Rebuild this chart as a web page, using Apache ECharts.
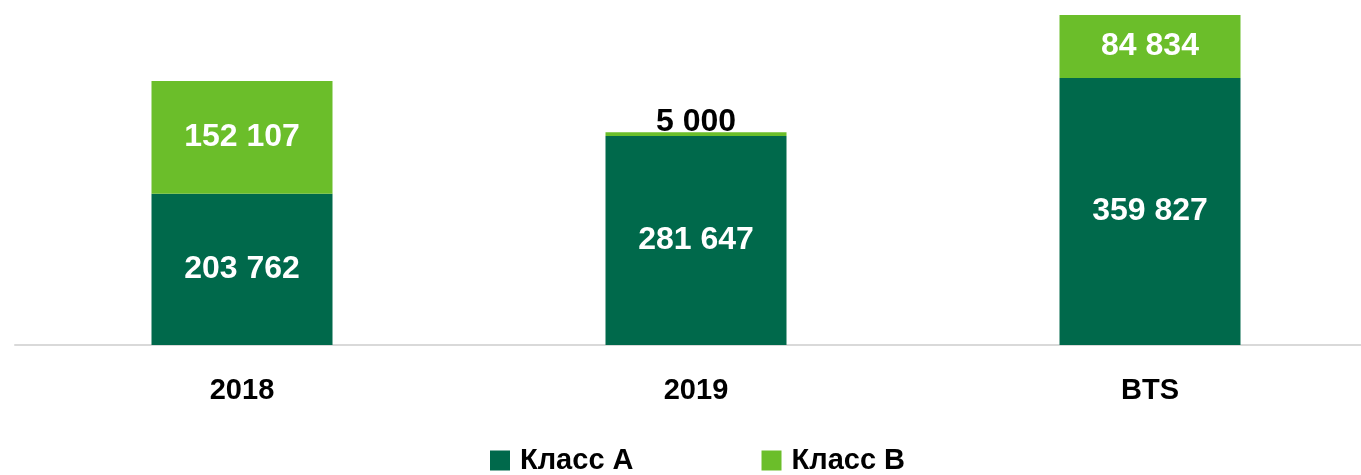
<!DOCTYPE html>
<html>
<head>
<meta charset="utf-8">
<script src="https://cdn.jsdelivr.net/npm/echarts@6/dist/echarts.min.js"></script>
<style>
    html, body { margin: 0; padding: 0; background: #fff; }
    #container { width: 1361px; height: 475px; }
</style>
</head>
<body>
<div id="container"></div>
<script type="text/javascript">
    var categories = ['2018', '2019', 'BTS'];
    var classA = [203762, 281647, 359827];
    var classB = [152107, 5000, 84834];
    var seriesNames = ['Класс A', 'Класс B'];

    var dom = document.getElementById("container");
    var myChart = echarts.init(dom);

    // числа с пробелом между тысячами
    function fmt(v) {
        return String(v).replace(/\B(?=(\d{3})+(?!\d))/g, ' ');
    }

    var labelFont = 'Liberation Sans Narrow, Arial Narrow, Liberation Sans, Arial, sans-serif';

    var option = {
        animation: false,
        grid: { left: 15, width: 1362, top: 0, bottom: 130, outerBoundsMode: 'none' },
        legend: {
            data: seriesNames,
            top: 441,
            left: 485,
            itemWidth: 20,
            itemHeight: 20,
            itemGap: 128,
            icon: 'rect',
            textStyle: { fontFamily: labelFont, fontWeight: 'bold', fontSize: 29, color: '#000', padding: [0, 0, 0, 5] }
        },
        xAxis: {
            type: 'category',
            data: categories,
            axisLine: { lineStyle: { color: '#d9d9d9', width: 2 } },
            axisTick: { show: false },
            axisLabel: { margin: 31, fontFamily: labelFont, fontWeight: 'bold', fontSize: 29, color: '#000' }
        },
        yAxis: {
            type: 'value',
            min: 0,
            max: 465000,
            show: false,
            splitLine: { show: false }
        },
        series: [
            {
                name: seriesNames[0],
                type: 'bar',
                stack: 'total',
                barWidth: 181,
                data: classA,
                itemStyle: { color: '#00694B' },
                label: {
                    show: true,
                    position: 'inside',
                    formatter: function (p) { return fmt(p.value); },
                    fontFamily: labelFont, fontWeight: 'bold', fontSize: 32, color: '#fff'
                }
            },
            {
                name: seriesNames[1],
                type: 'bar',
                stack: 'total',
                barWidth: 181,
                data: classB.map(function (v, i) {
                    if (v < 20000) {
                        return { value: v, label: { position: 'top', distance: 0, offset: [0, 6], color: '#000' } };
                    }
                    return v;
                }),
                itemStyle: { color: '#6BBE2A' },
                label: {
                    show: true,
                    position: 'inside',
                    formatter: function (p) { return fmt(p.value); },
                    fontFamily: labelFont, fontWeight: 'bold', fontSize: 32, color: '#fff'
                }
            }
        ]
    };

    if (option && typeof option === 'object') {
        myChart.setOption(option);
    }
</script>
</body>
</html>
